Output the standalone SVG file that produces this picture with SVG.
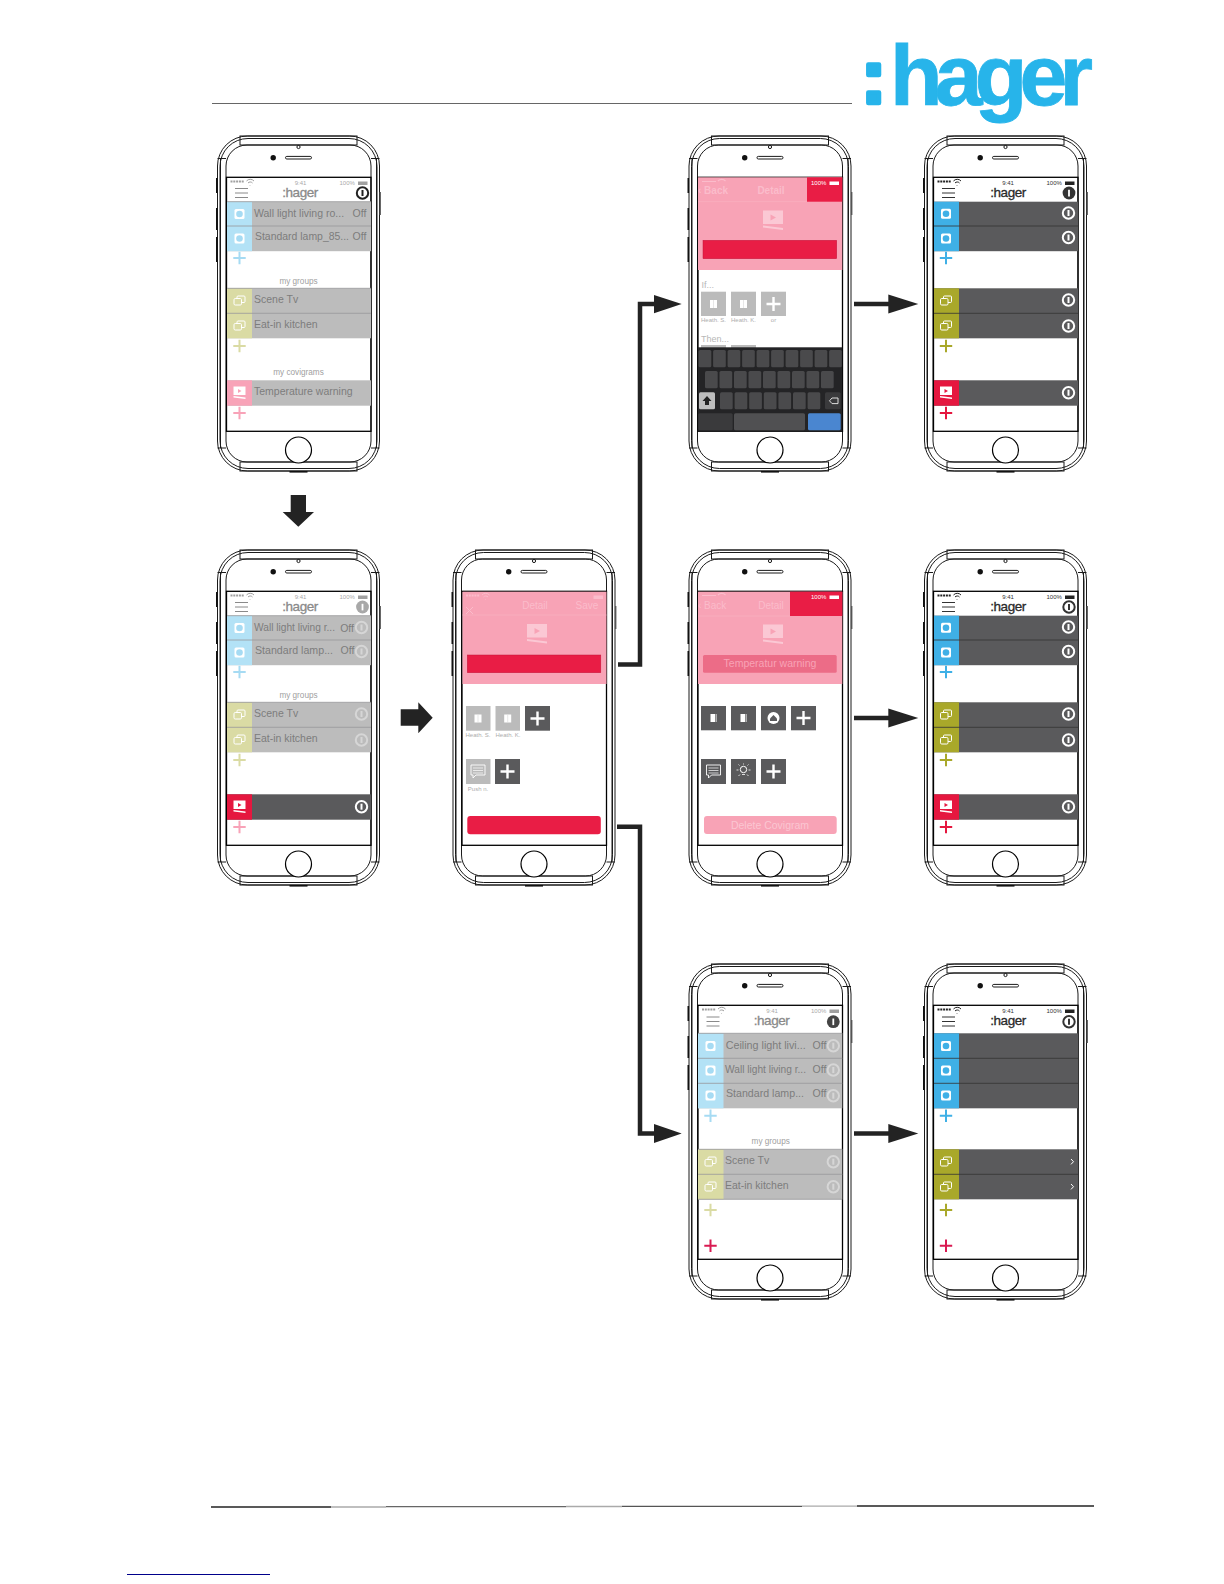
<svg xmlns="http://www.w3.org/2000/svg" width="1224" height="1584" viewBox="0 0 1224 1584">
<style>
.f{fill:none;stroke:#1a1a1a;stroke-width:1}
.s{fill:none;stroke:#000;stroke-width:1.3}
text{font-family:"Liberation Sans",Arial,sans-serif}
.t{font-size:10.5px;fill:#7d7d7d}
.sm{font-size:8.2px;fill:#a0a0a0;text-anchor:middle}
.lb{font-size:6px;fill:#adadad;text-anchor:middle}
.lt{font-size:9px;fill:#b8b8b8}
.hh{font-size:13.5px;text-anchor:middle;letter-spacing:-.5px;stroke-width:.3}
.hd{fill:#8a8a8a;stroke:#8a8a8a}.hk{fill:#2a2a2a;stroke:#2a2a2a}
.ph{font-size:10px;font-weight:700;fill:#fbbccb}
.ph2{font-size:10px;fill:#fbbccb}
.st{font-size:6px}
.dr{fill:#5a5a5c}.dg{fill:#bcbcbc}
.bb{fill:#3fb0e6;color:#3fb0e6}.ob{fill:#a9a82a;color:#a9a82a}.rb{fill:#e5173f;color:#e5173f}
.bd{fill:#b3e2f6;color:#a6dbf3}.od{fill:#dadba4;color:#dadba4}.rd{fill:#f8a3b8;color:#f8a3b8}
.sep{stroke:#98989a;stroke-width:.8}
.sepd{stroke:#333;stroke-width:.8}
.pk{fill:#f8a3b6}.red{fill:#e91d45}
.bx{fill:#bbb}.bk{fill:#5a5a5c}
.key{fill:#4a4a4c}
.w{color:#fff}.gr{color:#d6d6d6}
.arrow{fill:#232323}
.elbow{fill:none;stroke:#232323;stroke-width:4.5}
</style>
<defs>
<g id="frame">
<rect x="0" y="0" width="162" height="335" rx="30" fill="#fff" stroke="#1a1a1a"/>
<rect class="f" x="2.5" y="2.5" width="157" height="330" rx="28"/>
<rect class="f" x="8.5" y="9" width="145" height="317" rx="21"/>
<rect class="f" x="22.5" y="0" width="117" height="9" fill="#fff"/>
<rect class="f" x="22.5" y="326" width="117" height="9"/>
<path class="f" d="M0 22.5H8.5M0 312H8.5M153.5 22.5H162M153.5 312H162M3 22.5V312M159 22.5V312"/>
<circle cx="81" cy="11" r="1.6" class="f" fill="#fff"/>
<circle cx="55.7" cy="21.7" r="2.7" fill="#111"/>
<rect class="f" x="68" y="20.4" width="26" height="2.6" rx="1.3"/>
<circle cx="81" cy="314" r="13" fill="#fff" stroke="#000" stroke-width="1.2"/>
<path d="M-.7 42V57M-.7 72V94M-.7 101V126" stroke="#111" stroke-width="1.6" fill="none"/>
<path d="M162.7 56V79" stroke="#555" stroke-width="1.4" fill="none"/>
<path d="M72 335.8H90" stroke="#111" stroke-width="1.6" fill="none"/>
<rect class="s" x="9" y="41.3" width="144.5" height="254"/>
</g>
<g id="sock"><rect x="-5" y="-5" width="10" height="10" rx="1.5" fill="#fff"/><circle r="3.3" fill="currentColor"/></g>
<g id="grp" fill="none" stroke="#fff" stroke-width="1"><rect x="-5.5" y="-2" width="7.5" height="6.5" rx="1.2"/><path d="M-2.5-2V-3.5a1 1 0 0 1 1-1H4.5a1 1 0 0 1 1 1V1a1 1 0 0 1-1 1H2"/></g>
<g id="cov"><path d="M-6-6H6V2.5H-6Z" fill="#fff"/><path d="M-1.5-3.5L2-1.5L-1.5.5Z" fill="currentColor"/><path d="M-6 3.5L6 5V6.5L-6 5Z" fill="#fff"/></g>
<path id="plus" d="M-6.2 0H6.2M0-6.2V6.2" fill="none" stroke="currentColor" stroke-width="2"/>
<g id="ring"><circle r="5.7" fill="none" stroke="currentColor" stroke-width="2"/><path d="M0-3V3" stroke="currentColor" stroke-width="2"/></g>
<g id="ham"><path d="M0 0H13M0 4.5H13M0 9H13" stroke="currentColor" stroke-width="1" fill="none"/></g>
<g id="inf"><circle r="6.4" fill="currentColor"/><path d="M0-3.2V3.4" stroke="#fff" stroke-width="1.8"/></g>
<g id="sb">
<path d="M13 45.5h14" stroke="currentColor" stroke-width="1.8" stroke-dasharray="2 .8" fill="none"/>
<path d="M29 45a5 5 0 0 1 7.5 0M30.5 47a3 3 0 0 1 4.5 0M32.5 49.5l.5-.5" stroke="currentColor" stroke-width="1" fill="none"/>
<rect x="140.5" y="45.5" width="9.5" height="3.5" fill="currentColor"/>
</g>
<g id="vid"><path d="M-10-9.5H10V4H-10Z" fill="#fbc8d4"/><path d="M-2.5-5.5L3-2.5L-2.5.5Z" fill="#f8a3b6"/><path d="M-10 5.5L10 8V10L-10 7.5Z" fill="#fbc8d4"/></g>
<g id="sq"><rect x="-3.5" y="-4" width="7" height="8" fill="#fff"/><path d="M0-4V4" stroke="#ddd" stroke-width=".7"/></g>
<g id="sq2"><rect x="-3" y="-4" width="6" height="8" fill="#fff"/><path d="M2-4V4" stroke="#5a5a5c" stroke-width=".7"/></g>
<path id="wp" d="M-7 0H7M0-7V7" stroke="#fff" stroke-width="2.4" fill="none"/>
<g id="msg"><path d="M-7-6H7V4H-2L-5 7V4H-7Z" fill="none" stroke="#fff" stroke-width=".9"/><path d="M-5-3H5M-5-.5H5M-5 2H5" stroke="#fff" stroke-width=".7"/></g>
</defs>

<g id="logo">
<text font-weight="700" fill="#27b4ea"><tspan font-size="76" stroke="#27b4ea" stroke-width="4.5" stroke-linejoin="round" x="861" y="103">:</tspan><tspan font-size="86" letter-spacing="-7.8" stroke="#27b4ea" stroke-width=".8" x="890" y="105">hager</tspan></text>
</g>
<path id="header-rule" d="M212 103.5H852" stroke="#666" stroke-width="1" fill="none"/>
<g id="footer-rule" fill="none" stroke-width="1.3">
<path d="M211 1507H331" stroke="#222"/>
<path d="M331 1507H386" stroke="#aaa"/>
<path d="M386 1506.6H566" stroke="#666"/>
<path d="M566 1506.5H622" stroke="#aaa"/>
<path d="M622 1506.4H802" stroke="#555"/>
<path d="M802 1506.2H857" stroke="#aaa"/>
<path d="M857 1506H1094" stroke="#222"/>
</g>
<path id="link-underline" d="M127 1574.5H270" stroke="#00008b" stroke-width="1" fill="none"/>

<g id="phone-list-dim" transform="translate(217.5 136)">
<use href="#frame"/>
<use href="#sb" style="color:#a0a0a0"/>
<use href="#ham" x="17.5" y="52.5" style="color:#8a8a8a"/>
<text class="st" x="83" y="49" text-anchor="middle" fill="#aaa">9:41</text><text class="st" x="122" y="49" fill="#aaa">100%</text>
<text class="hh hd" x="82.5" y="61">:hager</text>
<use href="#ring" x="145" y="57" style="color:#222"/>
<rect class="dg" x="9.5" y="65.7" width="144" height="49.5"/><rect class="bd" x="9.5" y="65.7" width="25" height="49.5"/>
<path class="sep" d="M9.5 65.7H153.5M9.5 90H153.5"/>
<use href="#sock" x="22" y="78" class="bd"/><use href="#sock" x="22" y="102.5" class="bd"/>
<text class="t" x="36.5" y="81">Wall light living ro...</text><text class="t" x="135" y="81">Off</text>
<text class="t" x="37.5" y="104" textLength="94" lengthAdjust="spacingAndGlyphs">Standard lamp_85...</text><text class="t" x="135" y="104">Off</text>
<use href="#plus" x="22" y="122" class="bd"/>
<text class="sm" x="81" y="148">my groups</text>
<rect class="dg" x="9.5" y="152.3" width="144" height="50"/><rect class="od" x="9.5" y="152.3" width="25" height="50"/>
<path class="sep" d="M9.5 152.3H153.5M9.5 177.3H153.5"/>
<use href="#grp" x="22" y="164.5"/><use href="#grp" x="22" y="189.5"/>
<text class="t" x="36.5" y="167">Scene Tv</text><text class="t" x="36.5" y="192">Eat-in kitchen</text>
<use href="#plus" x="22" y="210" class="od"/>
<text class="sm" x="81" y="239">my covigrams</text>
<rect class="dg" x="9.5" y="244.3" width="144" height="25.4"/><rect class="rd" x="9.5" y="244.3" width="25" height="25.4"/>
<use href="#cov" x="22" y="256.5" class="rd"/>
<text class="t" x="36.5" y="259">Temperature warning</text>
<use href="#plus" x="22" y="277" class="rd"/>
</g>

<g id="phone-list-covigram" transform="translate(217.5 550)">
<use href="#frame"/>
<use href="#sb" style="color:#a0a0a0"/>
<use href="#ham" x="17.5" y="52.5" style="color:#8a8a8a"/>
<text class="st" x="83" y="49" text-anchor="middle" fill="#aaa">9:41</text><text class="st" x="122" y="49" fill="#aaa">100%</text>
<text class="hh hd" x="82.5" y="61">:hager</text>
<use href="#inf" x="145" y="57" style="color:#a8a8a8"/>
<rect class="dg" x="9.5" y="65.7" width="144" height="49.5"/><rect class="bd" x="9.5" y="65.7" width="25" height="49.5"/>
<path class="sep" d="M9.5 65.7H153.5M9.5 90H153.5"/>
<use href="#sock" x="22" y="78" class="bd"/><use href="#sock" x="22" y="102.5" class="bd"/>
<text class="t" x="36.5" y="81" textLength="81" lengthAdjust="spacingAndGlyphs">Wall light living r...</text><text class="t" x="122.7" y="81.5">Off</text>
<text class="t" x="37.5" y="104" textLength="78" lengthAdjust="spacingAndGlyphs">Standard lamp...</text><text class="t" x="123" y="104">Off</text>
<use href="#ring" x="144" y="77.5" class="gr"/><use href="#ring" x="144" y="101.5" class="gr"/>
<use href="#plus" x="22" y="122" class="bd"/>
<text class="sm" x="81" y="148">my groups</text>
<rect class="dg" x="9.5" y="152.3" width="144" height="50"/><rect class="od" x="9.5" y="152.3" width="25" height="50"/>
<path class="sep" d="M9.5 152.3H153.5M9.5 177.3H153.5"/>
<use href="#grp" x="22" y="164.5"/><use href="#grp" x="22" y="189.5"/>
<text class="t" x="36.5" y="167">Scene Tv</text><text class="t" x="36.5" y="192">Eat-in kitchen</text>
<use href="#ring" x="144" y="164" class="gr"/><use href="#ring" x="144" y="190" class="gr"/>
<use href="#plus" x="22" y="210" class="od"/>
<rect class="dr" x="9.5" y="244.3" width="144" height="25.4"/><rect class="rb" x="9.5" y="244.3" width="25" height="25.4"/>
<use href="#cov" x="22" y="256.5" class="rb"/>
<use href="#ring" x="144" y="256.7" class="w"/>
<use href="#plus" x="22" y="277" class="rd"/>
</g>

<g id="phone-detail" transform="translate(453 550)">
<use href="#frame"/>
<rect class="pk" x="9.5" y="41.7" width="144" height="92.3"/>
<path d="M9.5 65H153.5" stroke="#f9b1c2" stroke-width=".7" fill="none"/>
<use href="#sb" style="color:#fbbccb"/>
<path d="M13 57L20 64M20 57L13 64" stroke="#fbbccb" stroke-width="1" fill="none"/>
<text class="ph2" x="82" y="59" text-anchor="middle">Detail</text><text class="ph2" x="134" y="59" text-anchor="middle">Save</text>
<use href="#vid" x="84" y="83.5"/>
<rect class="red" x="14.3" y="105" width="133.5" height="17.7" stroke="#c4143a" stroke-width=".5"/>
<rect class="bx" x="13" y="156" width="24.5" height="24.7"/><use href="#sq" x="25" y="168.5"/>
<rect class="bx" x="42.5" y="156" width="24.5" height="24.7"/><use href="#sq" x="54.7" y="168.5"/>
<rect class="bk" x="72" y="156" width="25" height="24.7"/><use href="#wp" x="84.5" y="168.5"/>
<text class="lb" x="25" y="187">Heath. S.</text><text class="lb" x="55" y="187">Heath. K.</text>
<rect class="bx" x="13" y="209" width="24.5" height="25"/><use href="#msg" x="25" y="221"/>
<rect class="bk" x="42" y="209" width="25" height="25"/><use href="#wp" x="54.5" y="221.5"/>
<text class="lb" x="25" y="241">Push n.</text>
<rect class="red" x="14.3" y="266" width="133.5" height="18.3" rx="3"/>
</g>

<g id="phone-keyboard" transform="translate(689 136)">
<use href="#frame"/>
<rect class="pk" x="9" y="41.3" width="144.3" height="92.7"/>
<rect class="red" x="118" y="41.3" width="35.3" height="24.4"/>
<path d="M9 65.7H118" stroke="#f9b1c2" stroke-width=".7" fill="none"/>
<path d="M13 45.5h14M29 45a5 5 0 0 1 7.5 0" stroke="#fbbccb" stroke-width="1.2" fill="none"/>
<rect x="140.5" y="45.5" width="9.5" height="3.5" fill="#fff"/>
<text class="st" x="122" y="49" fill="#fff" font-size="6.5">100%</text>
<text class="ph" x="9" y="57.5">‹ Back</text><text class="ph" x="82" y="57.5" text-anchor="middle">Detail</text>
<use href="#vid" x="84" y="84"/>
<rect class="red" x="14" y="104.3" width="133.7" height="18.4" stroke="#c4143a" stroke-width=".5"/>
<text class="lt" x="12.5" y="151.7">If...</text>
<rect class="bx" x="12" y="155.7" width="25" height="24.3"/><use href="#sq" x="24.5" y="168"/>
<rect class="bx" x="42" y="155.7" width="25" height="24.3"/><use href="#sq" x="54.5" y="168"/>
<rect class="bx" x="72" y="155.7" width="25" height="24.3"/><use href="#wp" x="84.5" y="168"/>
<text class="lb" x="24.5" y="186">Heath. S.</text><text class="lb" x="54.5" y="186">Heath. K.</text><text class="lb" x="84.5" y="186">or</text>
<text class="lt" x="12" y="206">Then...</text>
<rect class="bx" x="12" y="209" width="25" height="3"/><rect class="bx" x="42" y="209" width="25" height="3"/>
<rect x="9" y="211.3" width="144.3" height="84.4" fill="#242426"/>
<g id="keys">
<rect class="key" x="9.6" y="214" width="12.7" height="17.3" rx="1.5"/><rect class="key" x="24.1" y="214" width="12.7" height="17.3" rx="1.5"/><rect class="key" x="38.6" y="214" width="12.7" height="17.3" rx="1.5"/><rect class="key" x="53.1" y="214" width="12.7" height="17.3" rx="1.5"/><rect class="key" x="67.6" y="214" width="12.7" height="17.3" rx="1.5"/><rect class="key" x="82.1" y="214" width="12.7" height="17.3" rx="1.5"/><rect class="key" x="96.6" y="214" width="12.7" height="17.3" rx="1.5"/><rect class="key" x="111.1" y="214" width="12.7" height="17.3" rx="1.5"/><rect class="key" x="125.6" y="214" width="12.7" height="17.3" rx="1.5"/><rect class="key" x="140.1" y="214" width="12.7" height="17.3" rx="1.5"/>
<rect class="key" x="16" y="235" width="12.7" height="17.3" rx="1.5"/><rect class="key" x="30.5" y="235" width="12.7" height="17.3" rx="1.5"/><rect class="key" x="45" y="235" width="12.7" height="17.3" rx="1.5"/><rect class="key" x="59.5" y="235" width="12.7" height="17.3" rx="1.5"/><rect class="key" x="74" y="235" width="12.7" height="17.3" rx="1.5"/><rect class="key" x="88.5" y="235" width="12.7" height="17.3" rx="1.5"/><rect class="key" x="103" y="235" width="12.7" height="17.3" rx="1.5"/><rect class="key" x="117.5" y="235" width="12.7" height="17.3" rx="1.5"/><rect class="key" x="132" y="235" width="12.7" height="17.3" rx="1.5"/>
<rect x="10" y="256.3" width="16" height="17" rx="1.5" fill="#bdbdbd"/><path d="M18 260L22.5 265H20V269H16V265H13.5Z" fill="#222"/>
<rect class="key" x="31" y="256.3" width="12.7" height="17" rx="1.5"/><rect class="key" x="45.6" y="256.3" width="12.7" height="17" rx="1.5"/><rect class="key" x="60.2" y="256.3" width="12.7" height="17" rx="1.5"/><rect class="key" x="74.8" y="256.3" width="12.7" height="17" rx="1.5"/><rect class="key" x="89.4" y="256.3" width="12.7" height="17" rx="1.5"/><rect class="key" x="104" y="256.3" width="12.7" height="17" rx="1.5"/><rect class="key" x="118.6" y="256.3" width="12.7" height="17" rx="1.5"/>
<rect x="136" y="256.3" width="15.7" height="17" rx="1.5" fill="#3a3a3c"/><path d="M140.5 264.8L143 262H149V267.6H143Z" fill="none" stroke="#ddd"/>
<rect x="9.3" y="277.3" width="34.4" height="17" rx="1.5" fill="#3a3a3c"/><rect x="45" y="277.3" width="71" height="17" rx="1.5" fill="#505052"/><rect x="119" y="277.3" width="32.7" height="17" rx="1.5" fill="#4a86d0"/>
</g>
</g>

<g id="phone-detail-delete" transform="translate(689 550)">
<use href="#frame"/>
<rect class="pk" x="9" y="41.7" width="144.3" height="92.3"/>
<rect class="red" x="101" y="41.7" width="52.3" height="24.3"/>
<path d="M9 66H101" stroke="#f9b1c2" stroke-width=".7" fill="none"/>
<path d="M13 45.5h14M29 45a5 5 0 0 1 7.5 0" stroke="#fbbccb" stroke-width="1.2" fill="none"/>
<text class="st" x="122" y="49" fill="#fff" font-size="6.5">100%</text><rect x="140.5" y="45.5" width="9.5" height="3.5" fill="#fff"/>
<text class="ph2" x="9" y="59">‹ Back</text><text class="ph2" x="82" y="59" text-anchor="middle">Detail</text>
<use href="#vid" x="84" y="84"/>
<rect x="14" y="105" width="133.7" height="17.7" rx="1.5" fill="#ec6c87"/>
<text x="81" y="116.5" font-size="10.5" fill="#f8a3b6" text-anchor="middle">Temperatur warning</text>
<rect class="bk" x="12" y="156" width="25" height="24.3"/><use href="#sq2" x="24.5" y="168"/>
<rect class="bk" x="42" y="156" width="25" height="24.3"/><use href="#sq2" x="54.5" y="168"/>
<rect class="bk" x="72" y="156" width="25" height="24.3"/><circle cx="84.5" cy="168" r="6" fill="#fff"/><path d="M81 168.5L84.5 165L88 168.5V171H81Z" fill="#5a5a5c"/>
<rect class="bk" x="102" y="156" width="25" height="24.3"/><use href="#wp" x="114.5" y="168"/>
<rect class="bk" x="12" y="209" width="25" height="25"/><use href="#msg" x="24.5" y="221"/>
<rect class="bk" x="42" y="209" width="25" height="25"/><circle cx="54.5" cy="219.5" r="3.2" fill="none" stroke="#fff"/><path d="M54.5 213.5V214.5M47.5 220H49.5M59.5 220H61.5M49.5 214.5L50.5 215.5M59.5 214.5L58.5 215.5M49.5 226L51 224.5M59.5 226L58 224.5M53 224.5H56" stroke="#fff" fill="none" stroke-width=".8"/>
<rect class="bk" x="72" y="209" width="25" height="25"/><use href="#wp" x="84.5" y="221.5"/>
<rect x="15" y="266" width="132.7" height="18" rx="3" class="pk"/>
<text x="81" y="278.5" font-size="10.5" fill="#fbc6d2" text-anchor="middle">Delete Covigram</text>
</g>

<g id="phone-select-dim" transform="translate(689 964)">
<use href="#frame"/>
<use href="#sb" style="color:#a0a0a0"/>
<use href="#ham" x="17.5" y="53" style="color:#8a8a8a"/>
<text class="st" x="83" y="49" text-anchor="middle" fill="#aaa">9:41</text><text class="st" x="122" y="49" fill="#aaa">100%</text>
<text class="hh hd" x="82.5" y="61">:hager</text>
<use href="#inf" x="144.3" y="57.7" style="color:#444"/>
<rect class="dg" x="9" y="69.3" width="144.3" height="75"/><rect class="bd" x="9" y="69.3" width="25.5" height="75"/>
<path class="sep" d="M9 69.3H153.3M9 94.3H153.3M9 119.3H153.3"/>
<use href="#sock" x="21.5" y="82" class="bd"/><use href="#sock" x="21.5" y="106.5" class="bd"/><use href="#sock" x="21.5" y="131.5" class="bd"/>
<text class="t" x="36.7" y="84.7" textLength="80" lengthAdjust="spacingAndGlyphs">Ceiling light livi...</text><text class="t" x="123.5" y="84.7">Off</text>
<text class="t" x="36" y="109.3" textLength="81" lengthAdjust="spacingAndGlyphs">Wall light living r...</text><text class="t" x="123.5" y="109.3">Off</text>
<text class="t" x="37" y="132.7" textLength="78" lengthAdjust="spacingAndGlyphs">Standard lamp...</text><text class="t" x="123.5" y="132.7">Off</text>
<use href="#ring" x="144.3" y="81.7" class="gr"/><use href="#ring" x="144.3" y="106" class="gr"/><use href="#ring" x="144.3" y="131.7" class="gr"/>
<use href="#plus" x="21.5" y="151.7" class="bd"/>
<text class="sm" x="81.7" y="180">my groups</text>
<rect class="dg" x="9" y="185.3" width="144.3" height="50"/><rect class="od" x="9" y="185.3" width="25.5" height="50"/>
<path class="sep" d="M9 185.3H153.3M9 210.3H153.3M9 235.3H153.3"/>
<use href="#grp" x="21.5" y="197.5"/><use href="#grp" x="21.5" y="222.5"/>
<text class="t" x="36" y="200">Scene Tv</text><text class="t" x="36" y="225">Eat-in kitchen</text>
<use href="#ring" x="144.3" y="197.7" class="gr"/><use href="#ring" x="144.3" y="222.7" class="gr"/>
<use href="#plus" x="21.5" y="246" class="od"/>
<use href="#plus" x="21.5" y="281.7" style="color:#d91a52"/>
</g>

<g id="phone-result-1" transform="translate(924.5 136)">
<use href="#frame"/>
<use href="#sb" style="color:#222"/>
<use href="#ham" x="17.5" y="52.5" style="color:#333"/>
<text class="st" x="83.5" y="49" text-anchor="middle" fill="#333">9:41</text><text class="st" x="122" y="49" fill="#333">100%</text>
<text class="hh hk" x="83.5" y="60.5">:hager</text>
<use href="#inf" x="144.5" y="57" style="color:#333"/>
<rect class="dr" x="9.5" y="65.7" width="144" height="49.5"/><rect class="bb" x="9.5" y="65.7" width="25" height="49.5"/>
<path class="sepd" d="M9.5 90H153.5"/>
<use href="#sock" x="21.5" y="77.7" class="bb"/><use href="#sock" x="21.5" y="102.5" class="bb"/>
<use href="#ring" x="144" y="77" class="w"/><use href="#ring" x="144" y="101.5" class="w"/>
<use href="#plus" x="21.5" y="122" class="bb"/>
<rect class="dr" x="9.5" y="152.3" width="144" height="50"/><rect class="ob" x="9.5" y="152.3" width="25" height="50"/>
<path class="sepd" d="M9.5 177.3H153.5"/>
<use href="#grp" x="21.5" y="164.5"/><use href="#grp" x="21.5" y="189.5"/>
<use href="#ring" x="144" y="164" class="w"/><use href="#ring" x="144" y="190" class="w"/>
<use href="#plus" x="21.5" y="210" class="ob"/>
<rect class="dr" x="9.5" y="244.3" width="144" height="25.4"/><rect class="rb" x="9.5" y="244.3" width="25" height="25.4"/>
<use href="#cov" x="21.5" y="256.5" class="rb"/><use href="#ring" x="144" y="256.7" class="w"/>
<use href="#plus" x="21.5" y="277" class="rb"/>
</g>

<g id="phone-result-2" transform="translate(924.5 550)">
<use href="#frame"/>
<use href="#sb" style="color:#222"/>
<use href="#ham" x="17.5" y="52.5" style="color:#333"/>
<text class="st" x="83.5" y="49" text-anchor="middle" fill="#333">9:41</text><text class="st" x="122" y="49" fill="#333">100%</text>
<text class="hh hk" x="83.5" y="60.5">:hager</text>
<use href="#ring" x="144.5" y="57" style="color:#333"/>
<rect class="dr" x="9.5" y="65.7" width="144" height="49.5"/><rect class="bb" x="9.5" y="65.7" width="25" height="49.5"/>
<path class="sepd" d="M9.5 90H153.5"/>
<use href="#sock" x="21.5" y="77.7" class="bb"/><use href="#sock" x="21.5" y="102.5" class="bb"/>
<use href="#ring" x="144" y="77" class="w"/><use href="#ring" x="144" y="101.5" class="w"/>
<use href="#plus" x="21.5" y="122" class="bb"/>
<rect class="dr" x="9.5" y="152.3" width="144" height="50"/><rect class="ob" x="9.5" y="152.3" width="25" height="50"/>
<path class="sepd" d="M9.5 177.3H153.5"/>
<use href="#grp" x="21.5" y="164.5"/><use href="#grp" x="21.5" y="189.5"/>
<use href="#ring" x="144" y="164" class="w"/><use href="#ring" x="144" y="190" class="w"/>
<use href="#plus" x="21.5" y="210" class="ob"/>
<rect class="dr" x="9.5" y="244.3" width="144" height="25.4"/><rect class="rb" x="9.5" y="244.3" width="25" height="25.4"/>
<use href="#cov" x="21.5" y="256.5" class="rb"/><use href="#ring" x="144" y="256.7" class="w"/>
<use href="#plus" x="21.5" y="277" class="rb"/>
</g>

<g id="phone-result-3" transform="translate(924.5 964)">
<use href="#frame"/>
<use href="#sb" style="color:#222"/>
<use href="#ham" x="17.5" y="53" style="color:#333"/>
<text class="st" x="83.5" y="49" text-anchor="middle" fill="#333">9:41</text><text class="st" x="122" y="49" fill="#333">100%</text>
<text class="hh hk" x="83.5" y="61">:hager</text>
<use href="#ring" x="144.5" y="57.7" style="color:#333"/>
<rect class="dr" x="9.5" y="69.3" width="144" height="75"/><rect class="bb" x="9.5" y="69.3" width="25" height="75"/>
<path class="sepd" d="M9.5 94.3H153.5M9.5 119.3H153.5"/>
<use href="#sock" x="21.5" y="82" class="bb"/><use href="#sock" x="21.5" y="106.5" class="bb"/><use href="#sock" x="21.5" y="131.5" class="bb"/>
<use href="#plus" x="21.5" y="151.7" class="bb"/>
<rect class="dr" x="9.5" y="185.3" width="144" height="50"/><rect class="ob" x="9.5" y="185.3" width="25" height="50"/>
<path class="sepd" d="M9.5 210.3H153.5"/>
<use href="#grp" x="21.5" y="197.5"/><use href="#grp" x="21.5" y="222.5"/>
<path d="M146.5 195L149 197.7L146.5 200.4M146.5 220L149 222.7L146.5 225.4" stroke="#fff" stroke-width="1" fill="none"/>
<use href="#plus" x="21.5" y="246" class="ob"/>
<use href="#plus" x="21.5" y="281.7" style="color:#d91a52"/>
</g>

<g id="connectors">
<path class="arrow" d="M290.7 495H306V512H314L298.3 526.7L282.7 512H290.7Z"/>
<path class="arrow" d="M400.7 709.3H418.3V702.3L432.7 717.8L418.3 733.3V725.7H400.7Z"/>
<path class="elbow" d="M618 664.5H640V304H656"/>
<path class="arrow" d="M654 295L681.7 304L654 313.3Z"/>
<path class="elbow" d="M617 826.7H640V1133.5H656"/>
<path class="arrow" d="M654 1124L681.7 1133.5L654 1143Z"/>
<path class="elbow" d="M854 304H890"/><path class="arrow" d="M888.3 294.5L918.3 304L888.3 313.5Z"/>
<path class="elbow" d="M854 718H890"/><path class="arrow" d="M888.3 708.5L918.3 718L888.3 727.5Z"/>
<path class="elbow" d="M854 1133.5H890"/><path class="arrow" d="M888.3 1124L918.3 1133.5L888.3 1143Z"/>
</g>
</svg>
